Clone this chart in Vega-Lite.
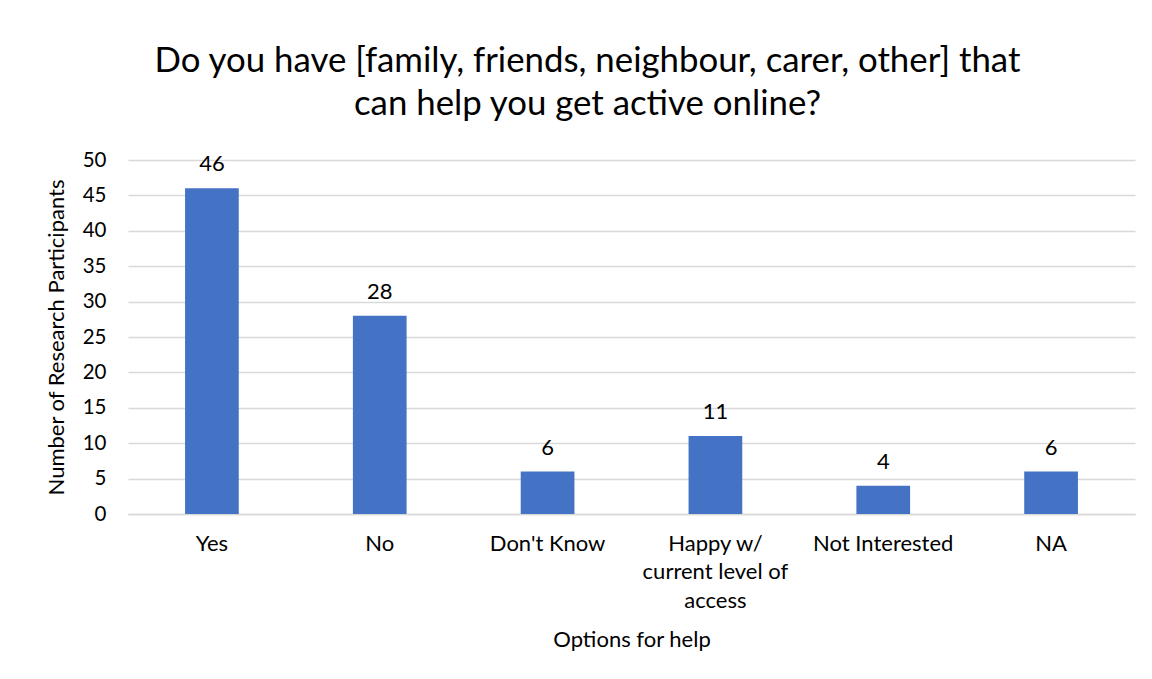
{
  "$schema": "https://vega.github.io/schema/vega-lite/v6.json",
  "width": 1007,
  "height": 354,
  "autosize": "none",
  "padding": {"left": 128, "top": 160, "right": 17, "bottom": 165},
  "background": "white",
  "title": {
    "text": ["Do you have [family, friends, neighbour, carer, other] that", "can help you get active online?"],
    "font": "Lato",
    "fontSize": 34.8,
    "fontWeight": "normal",
    "color": "#000000",
    "anchor": "middle",
    "frame": "group",
    "dx": -44,
    "offset": 27,
    "lineHeight": 43
  },
  "data": {
    "values": [
      {"option": "Yes", "count": 46},
      {"option": "No", "count": 28},
      {"option": "Don't Know", "count": 6},
      {"option": "Happy w/ current level of access", "count": 11},
      {"option": "Not Interested", "count": 4},
      {"option": "NA", "count": 6}
    ]
  },
  "encoding": {
    "x": {
      "field": "option",
      "type": "nominal",
      "sort": null,
      "title": "Options for help",
      "scale": {"paddingInner": 0.68, "paddingOuter": 0.34},
      "axis": {
        "labelAngle": 0,
        "labelFont": "Lato",
        "labelFontSize": 22,
        "labelColor": "#000000",
        "labelPadding": 19,
        "labelLineHeight": 28.5,
        "labelExpr": "datum.label == 'Happy w/ current level of access' ? ['Happy w/', 'current level of', 'access'] : datum.label",
        "ticks": false,
        "domainColor": "#d9d9d9",
        "domainWidth": 1.5,
        "titleFont": "Lato",
        "titleFontSize": 22,
        "titleFontWeight": "normal",
        "titleColor": "#000000",
        "titlePadding": 18
      }
    },
    "y": {
      "field": "count",
      "type": "quantitative",
      "title": "Number of Research Participants",
      "scale": {"domain": [0, 50]},
      "axis": {
        "values": [0, 5, 10, 15, 20, 25, 30, 35, 40, 45, 50],
        "labelFont": "Lato",
        "labelFontSize": 20.5,
        "labelColor": "#000000",
        "labelPadding": 22,
        "ticks": false,
        "domain": false,
        "gridColor": "#d9d9d9",
        "gridWidth": 1.5,
        "titleFont": "Lato",
        "titleFontSize": 22,
        "titleFontWeight": "normal",
        "titleColor": "#000000",
        "titlePadding": 14
      }
    }
  },
  "layer": [
    {"mark": {"type": "bar", "color": "#4472C4"}},
    {
      "mark": {"type": "text", "baseline": "bottom", "dy": -12, "font": "Lato", "fontSize": 22, "color": "#000000"},
      "encoding": {"text": {"field": "count", "type": "quantitative"}}
    }
  ],
  "config": {"view": {"stroke": null}}
}
